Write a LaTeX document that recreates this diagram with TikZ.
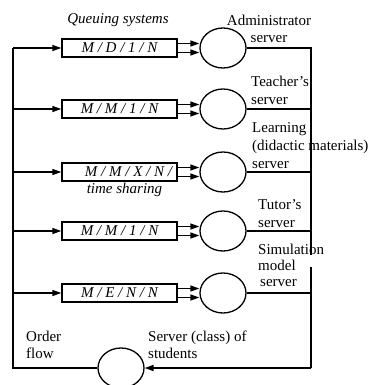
\documentclass[tikz,border=0pt]{standalone}
\usepackage{fontspec}
\setmainfont{Liberation Serif}
\usetikzlibrary{shapes.geometric,arrows.meta}
\begin{document}
\begin{tikzpicture}[x=1pt,y=-1pt,
  every node/.style={font=\fontsize{15}{17.5}\selectfont},
  qbox/.style={draw,line width=1.4pt,minimum width=115pt,minimum height=18pt,inner sep=0pt,font=\fontsize{15}{17.5}\selectfont\itshape},
  srv/.style={draw,ellipse,line width=1.3pt,minimum width=46pt,minimum height=40pt,inner sep=0pt},
  wire/.style={line width=1.4pt},
  arr/.style={wire,-{Triangle[length=9pt,width=6pt]}},
  lbl/.style={align=left,inner sep=0pt,anchor=west}]
\useasboundingbox (0,0) rectangle (368,385);
% buses
\coordinate (lbus) at (13,0);
\coordinate (rbus) at (311,0);
\coordinate (rgapA) at (311,255);
\coordinate (rgapB) at (311,267);
% queue boxes
\node[qbox] (q1) at (119.5,48) {M / D / 1 / N};
\node[qbox] (q2) at (119.5,109) {M / M / 1 / N};
\node[qbox] (q3) at (119.5,172) {\hspace*{18pt}M / M / X / N /};
\node[qbox] (q4) at (119.5,231) {M / M / 1 / N};
\node[qbox] (q5) at (119.5,293) {M / E / N / N};
% servers
\node[srv] (s1) at (223,48) {};
\node[srv] (s2) at (223,109) {};
\node[srv] (s3) at (223,172) {};
\node[srv] (s4) at (223,231) {};
\node[srv] (s5) at (223,293) {};
\node[srv] (os) at (121,368) {};
% double connections box -> server
\foreach \i in {1,...,5}{
  \draw[arr] ([yshift=4.5pt]q\i.east) -- ([yshift=4.5pt]q\i.east -| s\i.west);
  \draw[arr] ([yshift=-4.5pt]q\i.east) -- ([yshift=-4.5pt]q\i.east -| s\i.west);
  \draw[arr] (q\i.west -| lbus) -- (q\i.west);
}
% right bus
\draw[wire] (s1.east) -- (s1.east -| rbus) -- (rgapA);
\draw[wire] (rgapB) -- (rbus |- os.east);
\foreach \i in {2,...,5}{
  \draw[wire] (s\i.east) -- (s\i.east -| rbus);
}
\draw[arr] (rbus |- os.east) -- (os.east);
% left bus
\draw[wire] (os.west) -- (os.west -| lbus) -- (lbus |- q1.west);
% labels
\node[inner sep=0pt,font=\fontsize{15}{17.5}\selectfont\itshape] (t0) at (118,20) {Queuing systems};
\node[inner sep=0pt,align=center] (ta) at (269,29) {Administrator\\server};
\node[lbl] (tb) at (251,90.5) {Teacher’s\\server};
\node[lbl,font=\fontsize{15}{18}\selectfont] (tc) at (252,146) {Learning\\(didactic materials)\\server};
\node[lbl] (td) at (258,213.5) {Tutor’s\\server};
\node[lbl,font=\fontsize{15}{16}\selectfont] (te) at (258,265) {Simulation\\model\\\hspace*{2pt}server};
\node[inner sep=0pt,font=\fontsize{15}{17.5}\selectfont\itshape] (tf) at (124.5,190) {time sharing};
\node[lbl] (tg) at (26,345) {Order\\flow};
\node[lbl] (th) at (148,345) {Server (class) of\\students};
\end{tikzpicture}
\end{document}
